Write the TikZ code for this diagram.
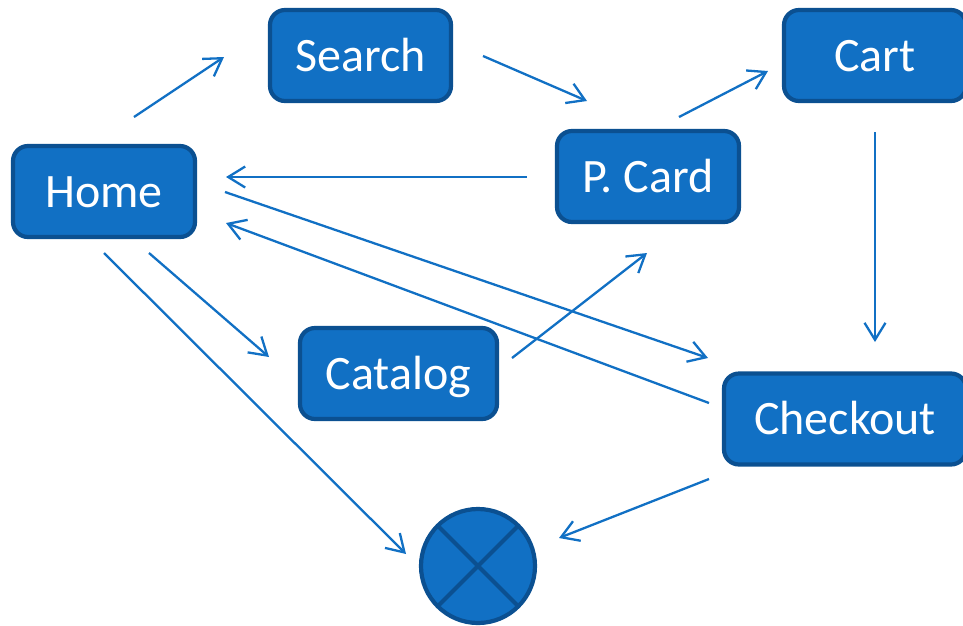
\documentclass[tikz,border=0pt]{standalone}
\usepackage{fontspec}
\setmainfont{Carlito}
\usetikzlibrary{arrows.meta}
\definecolor{boxfill}{HTML}{1170C4}
\definecolor{boxline}{HTML}{0B5091}
\definecolor{arrowcol}{HTML}{1170C4}
\begin{document}
\begin{tikzpicture}[x=1pt,y=-1pt,
  page/.style={draw=boxline, fill=boxfill, line width=4.2pt, rounded corners=15pt,
    text=white, font=\fontsize{48}{50}\selectfont,
    text height=31pt, text depth=0pt, inner sep=0pt,
    minimum height=91pt},
  terminal/.style={circle, draw=boxline, fill=boxfill, line width=4.2pt,
    minimum size=114pt, inner sep=0pt},
  arr/.style={draw=arrowcol, line width=2.3pt,
    -{Straight Barb[length=17pt,width=21pt,line width=2.3pt]}}]
\useasboundingbox (0,0) rectangle (963,625);

% pages
\node[page, minimum width=182pt] (home)     at (104,191.5) {Home};
\node[page, minimum width=181pt] (search)   at (360.5,55.5) {Search};
\node[page, minimum width=182pt] (pcard)    at (648,176.5) {P. Card};
\node[page, minimum width=182pt] (cart)     at (875,55.5) {Cart};
\node[page, minimum width=197pt] (catalog)  at (398.5,373.5) {Catalog};
\node[page, minimum width=242pt] (checkout) at (845,419) {Checkout};

% exit point
\node[terminal] (exit) at (478,566) {};
\draw[boxline, line width=4.2pt] ([shift={(45:57)}]exit.center) -- ([shift={(225:57)}]exit.center);
\draw[boxline, line width=4.2pt] ([shift={(135:57)}]exit.center) -- ([shift={(315:57)}]exit.center);

% transitions
\draw[arr] ([shift={(30,-74.5)}]home.center)     -- ([shift={(-136.5,1.5)}]search.center);
\draw[arr] ([shift={(122.5,0.5)}]search.center)  -- ([shift={(-61,-75.5)}]pcard.center);
\draw[arr] ([shift={(31,-59.5)}]pcard.center)    -- ([shift={(-107,15.5)}]cart.center);
\draw[arr] ([shift={(0,76.5)}]cart.center)       -- ([shift={(30,-77)}]checkout.center);
\draw[arr] ([shift={(-121,0.5)}]pcard.center)    -- ([shift={(122,-14.5)}]home.center);
\draw[arr] ([shift={(121,0.5)}]home.center)      -- ([shift={(-137,-61)}]checkout.center);
\draw[arr] ([shift={(-136,-16)}]checkout.center) -- ([shift={(122,31.5)}]home.center);
\draw[arr] ([shift={(45,61.5)}]home.center)      -- ([shift={(-129.5,-16.5)}]catalog.center);
\draw[arr] ([shift={(113.5,-15.5)}]catalog.center) -- ([shift={(-1,76.5)}]pcard.center);
\draw[arr] ([shift={(0,61.5)}]home.center)       -- ([shift={(-72,-12)}]exit.center);
\draw[arr] ([shift={(-136,60)}]checkout.center)  -- ([shift={(81,-28)}]exit.center);
\end{tikzpicture}
\end{document}
